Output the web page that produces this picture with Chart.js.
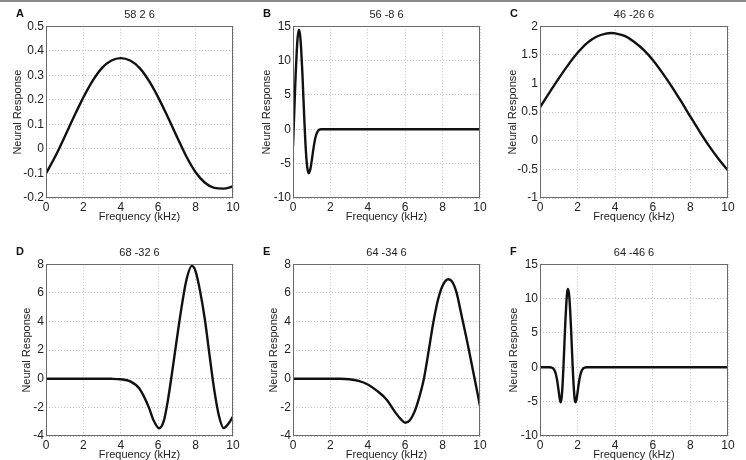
<!doctype html>
<html>

<head>
    <title>Neural Response panels</title>
    <script src="https://cdn.jsdelivr.net/npm/chart.js@4.4.1/dist/chart.umd.min.js"></script>

    <style>
    html, body {
        margin: 0;
        padding: 0;
        background: #fff;
        width: 746px;
        height: 460px;
        overflow: hidden;
    }
    .topline {
        position: absolute;
        left: 0;
        top: 0;
        width: 746px;
        height: 2px;
        background: #8a8a8a;
        z-index: 5;
    }
    .panel {
        position: absolute;
        height: 230px;
    }
    </style>
</head>

<body>
    <div class="topline"></div>
    <div class="panel" style="left:0px;top:0px;width:248px"><canvas id="cA"></canvas></div>
    <div class="panel" style="left:247px;top:0px;width:248px"><canvas id="cB"></canvas></div>
    <div class="panel" style="left:494px;top:0px;width:249px"><canvas id="cC"></canvas></div>
    <div class="panel" style="left:0px;top:238px;width:248px"><canvas id="cD"></canvas></div>
    <div class="panel" style="left:247px;top:238px;width:248px"><canvas id="cE"></canvas></div>
    <div class="panel" style="left:494px;top:238px;width:249px"><canvas id="cF"></canvas></div>

    <script>
    // values (frequency in kHz, response)
    var freqA = [0, 0.5, 1, 1.5, 2, 2.5, 3, 3.5, 4, 4.5, 5, 5.5, 6, 6.5, 7, 7.5, 8, 8.5, 9, 9.5, 10];
    var respA = [-0.10, -0.030, 0.050, 0.132, 0.210, 0.278, 0.330, 0.360, 0.370, 0.360, 0.330, 0.278, 0.210, 0.132, 0.050, -0.030, -0.095, -0.138, -0.159, -0.162, -0.153];

    var freqB = [0, 0.05, 0.1, 0.15, 0.2, 0.25, 0.32, 0.38, 0.44, 0.5, 0.55, 0.6, 0.65, 0.7, 0.76, 0.84, 0.9, 0.95, 1.0, 1.1, 1.2, 1.3, 1.4, 1.5, 2, 3, 4, 5, 6, 7, 8, 9, 10];
    var respB = [-2.5, 1.2, 5.0, 8.5, 11.3, 13.4, 14.5, 13.7, 11.5, 8.3, 5.0, 1.8, -1.2, -3.6, -5.5, -6.4, -6.1, -5.5, -4.6, -2.7, -1.2, -0.4, -0.08, 0, 0, 0, 0, 0, 0, 0, 0, 0, 0];

    var freqC = [0, 0.5, 1, 1.5, 2, 2.5, 3, 3.5, 3.8, 4, 4.5, 5, 5.5, 6, 6.5, 7, 7.5, 8, 8.5, 9, 9.5, 10];
    var respC = [0.585, 0.84, 1.09, 1.325, 1.535, 1.705, 1.815, 1.87, 1.88, 1.875, 1.83, 1.73, 1.59, 1.41, 1.19, 0.95, 0.69, 0.42, 0.155, -0.095, -0.32, -0.52];

    var freqD = [0, 1, 2, 3, 3.5, 4, 4.5, 5, 5.5, 5.75, 6.05, 6.3, 6.5, 6.75, 7, 7.25, 7.5, 7.8, 8, 8.25, 8.5, 8.75, 9, 9.25, 9.5, 9.75, 10];
    var respD = [0, 0, 0, 0, -0.005, -0.04, -0.18, -0.7, -2.0, -2.9, -3.46, -2.95, -1.65, 0.5, 2.8, 5.0, 6.85, 7.88, 7.5, 6.05, 4.1, 1.6, -0.8, -2.6, -3.45, -3.15, -2.65];

    var freqE = [0, 1, 2, 2.5, 3, 3.5, 4, 4.5, 5, 5.5, 5.75, 6, 6.25, 6.5, 6.75, 7, 7.25, 7.5, 7.75, 8, 8.3, 8.5, 8.75, 9, 9.25, 9.5, 9.75, 10];
    var respE = [0, 0, 0, -0.005, -0.04, -0.15, -0.4, -0.85, -1.45, -2.4, -2.8, -3.07, -2.9, -2.3, -1.3, 0.0, 1.9, 3.9, 5.5, 6.5, 6.95, 6.8, 6.0, 4.5, 3.0, 1.4, -0.25, -1.9];

    var freqF = [0, 0.5, 0.6, 0.7, 0.8, 0.9, 1.0, 1.05, 1.1, 1.15, 1.2, 1.25, 1.3, 1.35, 1.4, 1.45, 1.49, 1.55, 1.6, 1.65, 1.7, 1.75, 1.8, 1.85, 1.89, 1.95, 2.0, 2.1, 2.2, 2.3, 2.4, 2.5, 3, 4, 5, 6, 7, 8, 9, 10];
    var respF = [0, 0, -0.03, -0.15, -0.6, -1.7, -3.6, -4.6, -5.1, -4.4, -2.6, 0.2, 3.5, 6.7, 9.3, 11.0, 11.4, 10.5, 8.5, 5.7, 2.5, -0.6, -3.1, -4.7, -5.1, -4.6, -3.6, -1.7, -0.6, -0.15, -0.03, 0, 0, 0, 0, 0, 0, 0, 0, 0];

    var panelLetters = ["A", "B", "C", "D", "E", "F"];
    var panelTitles = ["58 2 6", "56 -8 6", "46 -26 6", "68 -32 6", "64 -34 6", "64 -46 6"];
    var yRanges = [[-0.2, 0.5, 0.1], [-10, 15, 5], [-1, 2, 0.5], [-4, 8, 2], [-4, 8, 2], [-10, 15, 5]];
    var xTicks = [0, 10, 2];

    var fontFam = "'Liberation Sans', Arial, Helvetica, sans-serif";

    // matlab style tick text: 0.5, 1, -1, 0
    function tickText(v) {
        var r = Math.round(v * 1000) / 1000;
        if (Math.abs(r) < 1e-9) r = 0;
        return String(r);
    }

    // box around the axes + the bold panel letter
    var panelBox = {
        id: 'panelBox',
        afterDraw: function(chart, args, opts) {
            var a = chart.chartArea;
            var ctx = chart.ctx;
            ctx.save();
            ctx.strokeStyle = '#6a6a6a';
            ctx.lineWidth = 1;
            ctx.strokeRect(Math.round(a.left) + 0.5, Math.round(a.top) + 0.5,
                Math.round(a.right - a.left) - 1, Math.round(a.bottom - a.top) - 1);
            ctx.fillStyle = '#111';
            ctx.font = 'bold 11px ' + fontFam;
            ctx.textBaseline = 'middle';
            ctx.textAlign = 'left';
            ctx.fillText(opts.letter, a.left - 30, a.top - 12);
            ctx.restore();
        }
    };

    function makePanel(canvasId, i, freq, resp, yTitlePad) {
        var pts = freq.map(function(f, k) { return {x: f, y: resp[k]}; });
        var yr = yRanges[i];
        return new Chart(document.getElementById(canvasId), {
            type: 'line',
            data: {
                datasets: [{
                    data: pts,
                    borderColor: '#111',
                    borderWidth: 2.4,
                    pointRadius: 0,
                    fill: false,
                    cubicInterpolationMode: 'monotone'
                }]
            },
            options: {
                animation: false,
                responsive: true,
                maintainAspectRatio: false,
                layout: { padding: { left: 0, right: 15, top: 0, bottom: 0 } },
                plugins: {
                    legend: { display: false },
                    tooltip: { enabled: false },
                    title: {
                        display: true,
                        text: panelTitles[i],
                        fullSize: false,
                        color: '#222',
                        font: { family: fontFam, size: 11, weight: 'normal' },
                        padding: { top: 8, bottom: 5 }
                    },
                    panelBox: { letter: panelLetters[i] }
                },
                scales: {
                    x: {
                        type: 'linear',
                        min: xTicks[0],
                        max: xTicks[1],
                        ticks: { stepSize: xTicks[2], color: '#222', padding: 2, maxRotation: 0,
                            callback: tickText, font: { family: fontFam, size: 12 } },
                        grid: { color: '#c2c2c2', lineWidth: 1, drawTicks: false },
                        border: { display: false, dash: [1, 2] },
                        title: { display: true, text: 'Frequency (kHz)', color: '#222',
                            font: { family: fontFam, size: 11 }, padding: { top: 0, bottom: 6 } },
                        afterFit: function(s) { s.height = 32; }
                    },
                    y: {
                        min: yr[0],
                        max: yr[1],
                        ticks: { stepSize: yr[2], color: '#222', padding: 2,
                            callback: tickText, font: { family: fontFam, size: 12 } },
                        grid: { color: '#c2c2c2', lineWidth: 1, drawTicks: false },
                        border: { display: false, dash: [1, 2] },
                        title: { display: true, text: 'Neural Response', color: '#222',
                            font: { family: fontFam, size: 11 }, padding: { top: yTitlePad, bottom: 0 } },
                        afterFit: function(s) { s.width = 46; }
                    }
                }
            },
            plugins: [panelBox]
        });
    }

    makePanel('cA', 0, freqA, respA, 11);
    makePanel('cB', 1, freqB, respB, 13);
    makePanel('cC', 2, freqC, respC, 12);
    makePanel('cD', 3, freqD, respD, 20);
    makePanel('cE', 4, freqE, respE, 20);
    makePanel('cF', 5, freqF, respF, 13);
    </script>
</body>

</html>
